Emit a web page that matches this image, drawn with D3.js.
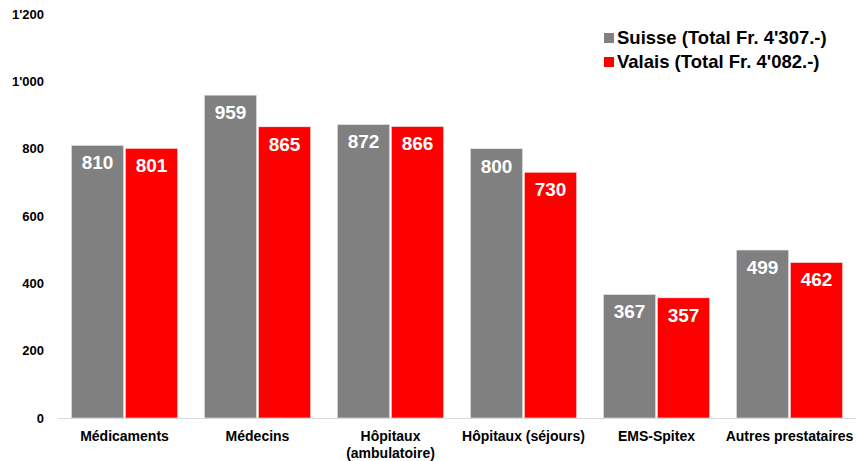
<!DOCTYPE html>
<html>
<head>
<meta charset="utf-8">
<script src="https://cdn.jsdelivr.net/npm/d3@7"></script>
<style>
  body { margin: 0; background: #fff; }
  text { font-family: "Liberation Sans", Arial, sans-serif; font-weight: bold; }
</style>
</head>
<body>
<div id="chart"></div>
<script>
const categories = ["Médicaments", "Médecins", "Hôpitaux\n(ambulatoire)", "Hôpitaux (séjours)", "EMS-Spitex", "Autres prestataires"];
const suisse = [810, 959, 872, 800, 367, 499];
const valais = [801, 865, 866, 730, 357, 462];
const seriesNames = ["Suisse (Total Fr. 4'307.-)", "Valais (Total Fr. 4'082.-)"];
const colors = ["#808080", "#ff0000"];
const yTicks = [0, 200, 400, 600, 800, 1000, 1200];

const width = 856, height = 461;
const margin = {top: 14, right: 0, bottom: 43, left: 58};
const innerW = width - margin.left - margin.right;
const innerH = height - margin.top - margin.bottom;

let svg = d3.select("#chart")
    .append("svg")
    .attr("width", width)
    .attr("height", height)
    .append("g")
    .attr("transform", `translate(${margin.left}, ${margin.top})`);

let data = categories.map(function(c, i) {
    return {cat: c, values: [suisse[i], valais[i]]};
});

let x0 = d3.scaleBand()
    .domain(categories)
    .range([0, innerW])
    .paddingInner(0.2)
    .paddingOuter(0.1);

let x1 = d3.scaleBand()
    .domain([0, 1])
    .range([0, x0.bandwidth()])
    .paddingInner(0.03);

let y = d3.scaleLinear()
    .domain([0, 1200])
    .range([innerH, 0]);

// y labels (no axis line)
let fmt = function(v) { return d3.format(",")(v).replace(",", "'"); };
svg.append("g")
    .selectAll("text")
    .data(yTicks)
    .enter()
    .append("text")
    .attr("x", -14)
    .attr("y", function(d) { return y(d); })
    .attr("dy", "0.35em")
    .attr("text-anchor", "end")
    .style("font-size", "13px")
    .attr("fill", "#000")
    .text(fmt);

let groups = svg.append("g")
    .selectAll("g")
    .data(data)
    .enter()
    .append("g")
    .attr("transform", function(d) { return `translate(${x0(d.cat)},0)`; });

groups.selectAll("rect")
    .data(function(d) { return d.values.map(function(v, k) { return {k: k, v: v}; }); })
    .enter()
    .append("rect")
    .attr("x", function(d) { return x1(d.k); })
    .attr("y", function(d) { return y(d.v); })
    .attr("width", x1.bandwidth())
    .attr("height", function(d) { return innerH - y(d.v); })
    .attr("fill", function(d) { return colors[d.k]; })
    .attr("stroke", "#f0f0f0")
    .attr("stroke-width", 0.6);

groups.selectAll("text.val")
    .data(function(d) { return d.values.map(function(v, k) { return {k: k, v: v}; }); })
    .enter()
    .append("text")
    .attr("class", "val")
    .attr("x", function(d) { return x1(d.k) + x1.bandwidth() / 2; })
    .attr("y", function(d) { return y(d.v) + 24; })
    .attr("text-anchor", "middle")
    .attr("fill", "#fff")
    .style("font-size", "19px")
    .text(function(d) { return d.v; });

// baseline
svg.append("line")
    .attr("x1", 0)
    .attr("x2", innerW)
    .attr("y1", innerH + 0.5)
    .attr("y2", innerH + 0.5)
    .attr("stroke", "#d9d9d9")
    .attr("stroke-width", 1);

// category labels
let catLabels = svg.append("g")
    .selectAll("text")
    .data(categories)
    .enter()
    .append("text")
    .attr("x", function(d) { return x0(d) + x0.bandwidth() / 2; })
    .attr("y", innerH + 23)
    .attr("text-anchor", "middle")
    .style("font-size", "14px")
    .attr("fill", "#000");

catLabels.each(function(d) {
    let lines = d.split("\n");
    let t = d3.select(this);
    lines.forEach(function(l, i) {
        t.append("tspan")
            .attr("x", x0(d) + x0.bandwidth() / 2)
            .attr("dy", i === 0 ? 0 : 17)
            .text(l);
    });
});

// legend
let legend = svg.append("g")
    .attr("transform", `translate(${604 - margin.left}, ${38 - margin.top})`);

seriesNames.forEach(function(name, i) {
    legend.append("rect")
        .attr("x", 0)
        .attr("y", i * 24 - 5)
        .attr("width", 10)
        .attr("height", 10)
        .attr("fill", colors[i]);
    legend.append("text")
        .attr("x", 13)
        .attr("y", i * 24)
        .attr("dy", "0.35em")
        .style("font-size", "18.5px")
        .attr("fill", "#000")
        .text(name);
});
</script>
</body>
</html>
